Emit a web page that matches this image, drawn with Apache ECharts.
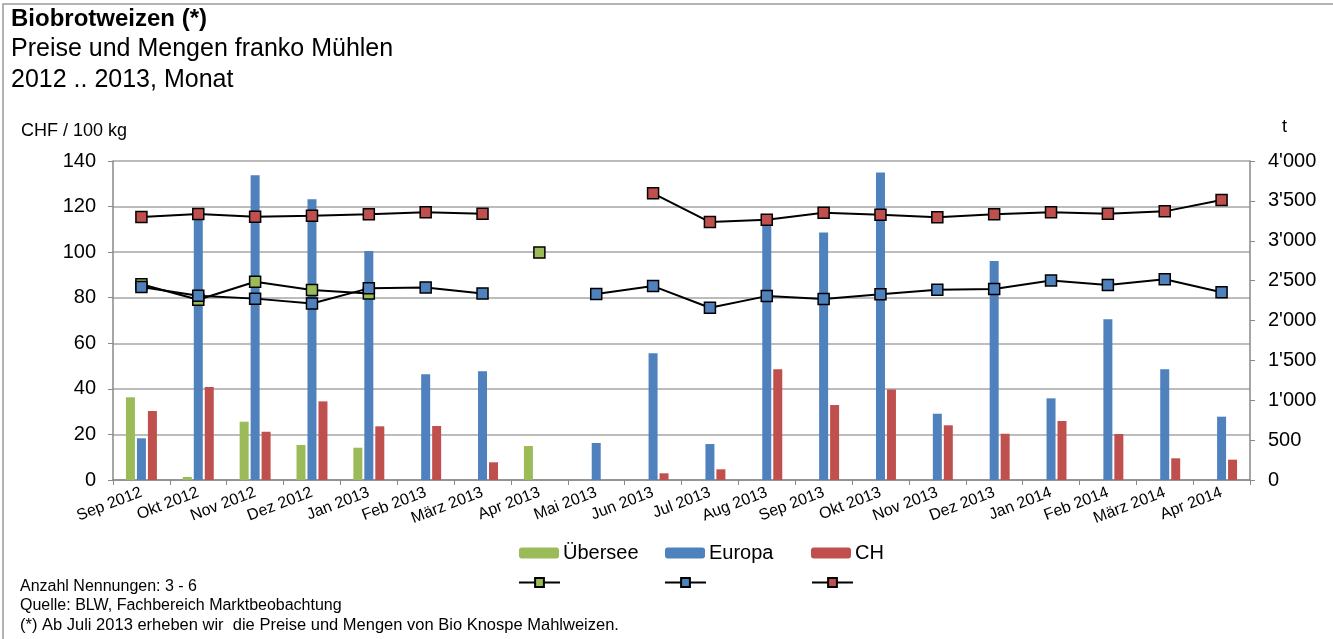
<!DOCTYPE html>
<html>
<head>
<meta charset="utf-8">
<script src="https://cdn.jsdelivr.net/npm/echarts@6/dist/echarts.min.js"></script>
<style>
  html, body { margin: 0; padding: 0; background: #fff; }
  #chart { width: 1333px; height: 639px; }
</style>
</head>
<body>
<div id="chart"></div>
<script>
const months = [
  "Sep 2012", "Okt 2012", "Nov 2012", "Dez 2012", "Jan 2013", "Feb 2013",
  "März 2013", "Apr 2013", "Mai 2013", "Jun 2013", "Jul 2013", "Aug 2013",
  "Sep 2013", "Okt 2013", "Nov 2013", "Dez 2013", "Jan 2014", "Feb 2014",
  "März 2014", "Apr 2014"
];

// Mengen in t (rechte Achse)
const mengeUebersee = [1037, 38, 731, 439, 405, null, null, 426, null, null, null, null, null, null, null, null, null, null, null, null];
const mengeEuropa = [523, 3290, 3820, 3519, 2871, 1325, 1363, null, 464, 1588, 451, 3235, 3105, 3857, 831, 2746, 1024, 2015, 1388, 794];
const mengeCH = [865, 1166, 605, 986, 673, 677, 222, null, null, 84, 134, 1388, 940, 1135, 686, 580, 740, 577, 272, 255];

// Preise in CHF / 100 kg (linke Achse)
const preisUebersee = [85.9, 79.1, 87.0, 83.4, 81.8, null, null, 99.8, null, null, null, null, null, null, null, null, null, null, null, null];
const preisEuropa = [84.7, 80.9, 79.6, 77.5, 84.1, 84.5, 81.9, null, 81.6, 85.1, 75.6, 80.7, 79.4, 81.5, 83.5, 83.8, 87.6, 85.6, 88.1, 82.4];
const preisCH = [115.4, 116.7, 115.5, 116.0, 116.6, 117.5, 116.9, null, null, 125.8, 113.2, 114.2, 117.3, 116.4, 115.3, 116.6, 117.5, 116.9, 117.9, 122.9];

const GREEN = "#9BBB59";
const BLUE = "#4F81BD";
const RED = "#C0504D";
const FONT = "Liberation Sans";

function barSeries(name, data, color) {
  return {
    name: name,
    type: "bar",
    yAxisIndex: 1,
    data: data,
    barWidth: 9,
    barGap: "22%",
    itemStyle: { color: color },
    z: 1
  };
}

function lineSeries(name, data, color) {
  return {
    name: name,
    type: "line",
    yAxisIndex: 0,
    data: data,
    symbol: "rect",
    symbolSize: 11,
    showSymbol: true,
    lineStyle: { color: "#000", width: 2 },
    itemStyle: { color: color, borderColor: "#000", borderWidth: 1.5 },
    z: 5
  };
}

// one legend per item so each sits where it does in the original
function barLegend(name, left) {
  return {
    data: [name],
    left: left,
    top: 543,
    padding: 0,
    itemWidth: 40,
    itemHeight: 11,
    textStyle: { fontSize: 20, color: "#000", padding: [0, 0, 0, -1] }
  };
}

function lineLegend(name, left) {
  return {
    data: [name],
    left: left,
    top: 577,
    padding: 0,
    itemWidth: 41,
    itemHeight: 11,
    formatter: () => "",
    textStyle: { fontSize: 1 }
  };
}

const chart = echarts.init(document.getElementById("chart"));

const option = {
  animation: false,
  textStyle: { fontFamily: FONT },
  graphic: [
    {
      type: "polyline",
      shape: { points: [[3, 639], [3, 4], [1333, 4]] },
      style: { fill: "none", stroke: "#9a9a9a", lineWidth: 1.5 }
    },
    {
      type: "text", left: 11, top: 7,
      style: { text: "Biobrotweizen (*)", font: "bold 24px " + FONT, fill: "#000" }
    },
    {
      type: "text", left: 11, top: 37,
      style: { text: "Preise und Mengen franko Mühlen", font: "25px " + FONT, fill: "#000" }
    },
    {
      type: "text", left: 11, top: 68,
      style: { text: "2012 .. 2013, Monat", font: "25px " + FONT, fill: "#000" }
    },
    {
      type: "text", left: 21, top: 122,
      style: { text: "CHF / 100 kg", font: "18px " + FONT, fill: "#000" }
    },
    {
      type: "text", left: 1282, top: 118,
      style: { text: "t", font: "18px " + FONT, fill: "#000" }
    },
    {
      type: "text", left: 20, top: 579,
      style: { text: "Anzahl Nennungen: 3 - 6", font: "16px " + FONT, fill: "#000" }
    },
    {
      type: "text", left: 20, top: 598,
      style: { text: "Quelle: BLW, Fachbereich Marktbeobachtung", font: "16px " + FONT, fill: "#000" }
    },
    {
      type: "text", left: 20, top: 617,
      style: { text: "(*) Ab Juli 2013 erheben wir  die Preise und Mengen von Bio Knospe Mahlweizen.", font: "16.5px " + FONT, fill: "#000" }
    }
  ],
  legend: [
    barLegend("Übersee", 519),
    barLegend("Europa", 665),
    barLegend("CH", 811),
    lineLegend("Preis Übersee", 518),
    lineLegend("Preis Europa", 664),
    lineLegend("Preis CH", 811)
  ],
  grid: { left: 113, right: 83, top: 161, bottom: 159 },
  xAxis: {
    type: "category",
    data: months,
    boundaryGap: true,
    axisLine: { lineStyle: { color: "#888", width: 1.5 } },
    axisTick: { show: true, length: 5, lineStyle: { color: "#888" } },
    axisLabel: { rotate: 21, fontSize: 16, color: "#000", margin: 12, interval: 0 }
  },
  yAxis: [
    {
      type: "value",
      min: 0,
      max: 140,
      interval: 20,
      axisLine: { show: true, lineStyle: { color: "#888", width: 1.5 } },
      axisTick: { show: true, length: 5, lineStyle: { color: "#888" } },
      axisLabel: { fontSize: 20, color: "#000", margin: 17 },
      splitLine: { lineStyle: { color: "#a6a6a6", width: 1.5 } }
    },
    {
      type: "value",
      min: 0,
      max: 4000,
      interval: 500,
      position: "right",
      axisLine: { show: true, lineStyle: { color: "#888", width: 1.5 } },
      axisTick: { show: true, length: 5, lineStyle: { color: "#888" } },
      axisLabel: {
        fontSize: 20,
        color: "#000",
        margin: 18,
        formatter: (v) => v >= 1000 ? Math.floor(v / 1000) + "'" + String(v % 1000).padStart(3, "0") : String(v)
      },
      splitLine: { show: false }
    }
  ],
  series: [
    barSeries("Übersee", mengeUebersee, GREEN),
    barSeries("Europa", mengeEuropa, BLUE),
    barSeries("CH", mengeCH, RED),
    lineSeries("Preis Übersee", preisUebersee, GREEN),
    lineSeries("Preis Europa", preisEuropa, BLUE),
    lineSeries("Preis CH", preisCH, RED)
  ]
};

chart.setOption(option);
</script>
</body>
</html>
